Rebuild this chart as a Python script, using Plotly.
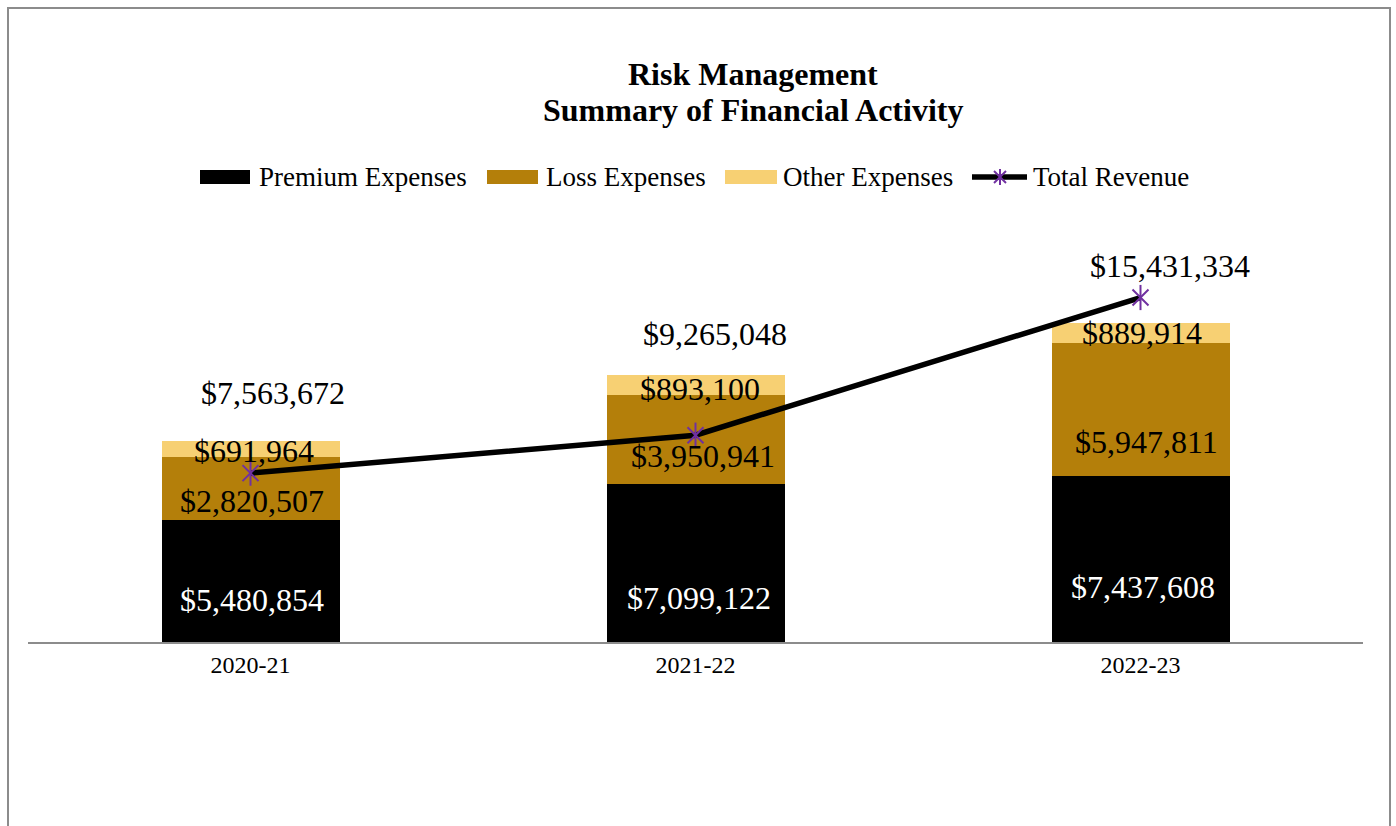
import plotly.graph_objects as go

# ---- data ----
years = ["2020-21", "2021-22", "2022-23"]
premium_expenses = [5480854, 7099122, 7437608]
loss_expenses = [2820507, 3950941, 5947811]
other_expenses = [691964, 893100, 889914]
total_revenue = [7563672, 9265048, 15431334]
series_names = ["Premium Expenses", "Loss Expenses", "Other Expenses", "Total Revenue"]
title_lines = ["Risk Management", "Summary of Financial Activity"]

# ---- styling ----
FONT = "Liberation Serif"
C_PREMIUM = "#000000"
C_LOSS = "#B47F0A"
C_OTHER = "#F7D073"
C_LINE = "#000000"
C_MARKER = "#7030A0"

W, H = 1396, 826
ML, MR, MT, MB = 28, 33, 200, 184
PW, PH = W - ML - MR, H - MT - MB
Y_MAX = 19.8e6


def px(xp):
    return (xp - ML) / PW


def py(yp):
    return (H - MB - yp) / PH


def money(v):
    return "${:,.0f}".format(v)


fig = go.Figure()

fig.add_trace(go.Bar(x=years, y=premium_expenses, name=series_names[0],
                     marker=dict(color=C_PREMIUM, line=dict(width=0))))
fig.add_trace(go.Bar(x=years, y=loss_expenses, name=series_names[1],
                     marker=dict(color=C_LOSS, line=dict(width=0))))
fig.add_trace(go.Bar(x=years, y=other_expenses, name=series_names[2],
                     marker=dict(color=C_OTHER, line=dict(width=0))))

# revenue line, with an X + vertical stroke marker (six-spoke asterisk)
fig.add_trace(go.Scatter(x=years, y=total_revenue, name=series_names[3], mode="lines",
                         line=dict(color=C_LINE, width=5.5)))
fig.add_trace(go.Scatter(x=years, y=total_revenue, mode="markers", showlegend=False,
                         marker=dict(symbol="x-thin-open", size=16, color=C_MARKER,
                                     line=dict(color=C_MARKER, width=2))))
fig.add_trace(go.Scatter(x=years, y=total_revenue, mode="markers", showlegend=False,
                         marker=dict(symbol="line-ns-open", size=18, color=C_MARKER,
                                     line=dict(color=C_MARKER, width=2))))

annotations = []

# segment labels: pixel nudges from the segment middle
prem_shift = [-19, -35, -28]
prem_xshift = [1, 3, 2]
loss_shift = [-13, -17, -32]
loss_xshift = [1, 7, 6]
other_shift = [-2, -4, 0]
other_xshift = [3, 4, 1]
rev_shift = [80, 101, 32]
rev_xshift = [22, 19, 29]

for i, yr in enumerate(years):
    p, l, o = premium_expenses[i], loss_expenses[i], other_expenses[i]
    annotations.append(dict(x=yr, y=p / 2, text=money(p), showarrow=False,
                            yshift=prem_shift[i], xshift=prem_xshift[i],
                            font=dict(family=FONT, size=32, color="#ffffff")))
    annotations.append(dict(x=yr, y=p + l / 2, text=money(l), showarrow=False,
                            yshift=loss_shift[i], xshift=loss_xshift[i],
                            font=dict(family=FONT, size=32, color="#000000")))
    annotations.append(dict(x=yr, y=p + l + o / 2, text=money(o), showarrow=False,
                            yshift=other_shift[i], xshift=other_xshift[i],
                            font=dict(family=FONT, size=32, color="#000000")))
    annotations.append(dict(x=yr, y=total_revenue[i], text=money(total_revenue[i]), showarrow=False,
                            yshift=rev_shift[i], xshift=rev_xshift[i],
                            font=dict(family=FONT, size=32, color="#000000")))

# two-line bold title
for line_text, yline in zip(title_lines, [74, 110]):
    annotations.append(dict(xref="paper", yref="paper", x=px(753), y=py(yline), xanchor="center",
                            yanchor="middle", text="<b>%s</b>" % line_text, showarrow=False,
                            font=dict(family=FONT, size=32, color="#000000")))

# legend row
shapes = []
legend_font = dict(family=FONT, size=27, color="#000000")
swatches = [(200, 250, C_PREMIUM, 257), (487, 538, C_LOSS, 544), (725, 777, C_OTHER, 781)]
for (x0, x1, col, tx), name in zip(swatches, series_names[:3]):
    shapes.append(dict(type="rect", xref="paper", yref="paper", x0=px(x0), x1=px(x1),
                       y0=py(184), y1=py(170), fillcolor=col, line=dict(width=0)))
    annotations.append(dict(xref="paper", yref="paper", x=px(tx), y=py(177), xanchor="left",
                            yanchor="middle", text=name, showarrow=False, font=legend_font))
shapes.append(dict(type="line", xref="paper", yref="paper", x0=px(972), x1=px(1027),
                   y0=py(177), y1=py(177), line=dict(color=C_LINE, width=5.5)))
shapes.append(dict(type="line", xref="paper", yref="paper", x0=px(994), x1=px(1006),
                   y0=py(171), y1=py(183), line=dict(color=C_MARKER, width=2)))
shapes.append(dict(type="line", xref="paper", yref="paper", x0=px(994), x1=px(1006),
                   y0=py(183), y1=py(171), line=dict(color=C_MARKER, width=2)))
shapes.append(dict(type="line", xref="paper", yref="paper", x0=px(1000), x1=px(1000),
                   y0=py(169), y1=py(185), line=dict(color=C_MARKER, width=2)))
annotations.append(dict(xref="paper", yref="paper", x=px(1031), y=py(177), xanchor="left",
                        yanchor="middle", text=series_names[3], showarrow=False, font=legend_font))

# chart frame
shapes.append(dict(type="rect", xref="paper", yref="paper", x0=px(8), x1=px(1390),
                   y0=py(860), y1=py(8), line=dict(color="#8c8c8c", width=2),
                   fillcolor="rgba(0,0,0,0)", layer="below"))

fig.update_layout(
    width=W, height=H,
    margin=dict(l=ML, r=MR, t=MT, b=MB),
    paper_bgcolor="#ffffff", plot_bgcolor="#ffffff",
    barmode="stack", bargap=0.6,
    showlegend=False,
    xaxis=dict(showgrid=False, showline=True, linecolor="#8c8c8c", linewidth=2,
               ticks="", tickfont=dict(family=FONT, size=24, color="#000000"),
               zeroline=False),
    yaxis=dict(range=[0, Y_MAX], visible=False, showgrid=False, zeroline=False),
    annotations=annotations,
    shapes=shapes,
)

fig.write_html("out.html")
